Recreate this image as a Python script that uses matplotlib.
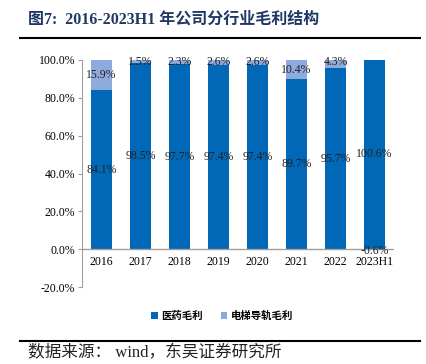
import numpy as np
import matplotlib
matplotlib.use('Agg')
import matplotlib.pyplot as plt
from matplotlib.lines import Line2D

years = ['2016', '2017', '2018', '2019', '2020', '2021', '2022', '2023H1']
pharma = [84.1, 98.5, 97.7, 97.4, 97.4, 89.7, 95.7, 100.6]
elevator = [15.9, 1.5, 2.3, 2.6, 2.6, 10.4, 4.3, -0.6]
yticks = [-20, 0, 20, 40, 60, 80, 100]

c1 = '#0068B7'
c2 = '#8FAADC'
serif = ['Liberation Serif', 'Noto Sans CJK SC']
cjk = ['Noto Sans CJK SC', 'DejaVu Sans']

fig = plt.figure(figsize=(4.26, 3.64), dpi=100)
ax = fig.add_axes([82/426, 1-287/364, 312/426, 227/364])

x = np.arange(len(years))
w = 0.56
p = np.array(pharma)
e = np.array(elevator)
ax.bar(x, p, width=w, color=c1, label='医药毛利')
bottoms = np.where(e >= 0, p, 0)
ax.bar(x, e, width=w, bottom=bottoms, color=c2, label='电梯导轨毛利')

for i in range(len(years)):
    ax.text(x[i], p[i]/2, '%.1f%%' % p[i], ha='center', va='center',
            fontsize=8.5, family=serif, color='#222222')
    if e[i] >= 0:
        yy = p[i] + e[i]/2
        if e[i] < 5:
            yy = 99.2
    else:
        yy = -0.8
    ax.text(x[i], yy, '%.1f%%' % e[i], ha='center', va='center',
            fontsize=8.5, family=serif, color='#222222')

ax.set_xlim(-0.5, len(years)-0.5)
ax.set_ylim(-20, 100)
ax.set_yticks(yticks)
ax.set_yticklabels(['%.1f%%' % v for v in yticks], family=serif, fontsize=8.5)
ax.set_xticks([])
for i, yl in enumerate(years):
    ax.text(x[i], -7, yl, ha='center', va='center', fontsize=8.5, family=serif)

for s in ['top', 'right', 'bottom']:
    ax.spines[s].set_visible(False)
ax.spines['left'].set_color('#A0A0A0')
ax.axhline(0, color='#A0A0A0', lw=1)
ax.tick_params(axis='y', length=3, color='#A0A0A0', pad=2)

fig.text(28/426, 1-20/364, '图7:  2016-2023H1 年公司分行业毛利结构', fontsize=11.5,
         fontweight='bold', family=serif, color='#1F3864', va='center')
fig.add_artist(Line2D([20/426, 420/426], [1-38/364, 1-38/364], color='black', lw=1.5))
fig.add_artist(Line2D([20/426, 420/426], [1-341/364, 1-341/364], color='black', lw=1.5))

leg = fig.legend(loc='center', bbox_to_anchor=(222/426, 1-316/364), ncol=2, frameon=False,
                 prop={'family': cjk, 'size': 7.5, 'weight': 'bold'}, handlelength=0.6,
                 handleheight=0.6, handletextpad=0.3, columnspacing=1.8)
fig.text(28/426, 1-353/364, '数据来源： wind，东吴证券研究所', fontsize=12, family=serif,
         va='center', color='#222222')

fig.savefig('out.png', dpi=100)
